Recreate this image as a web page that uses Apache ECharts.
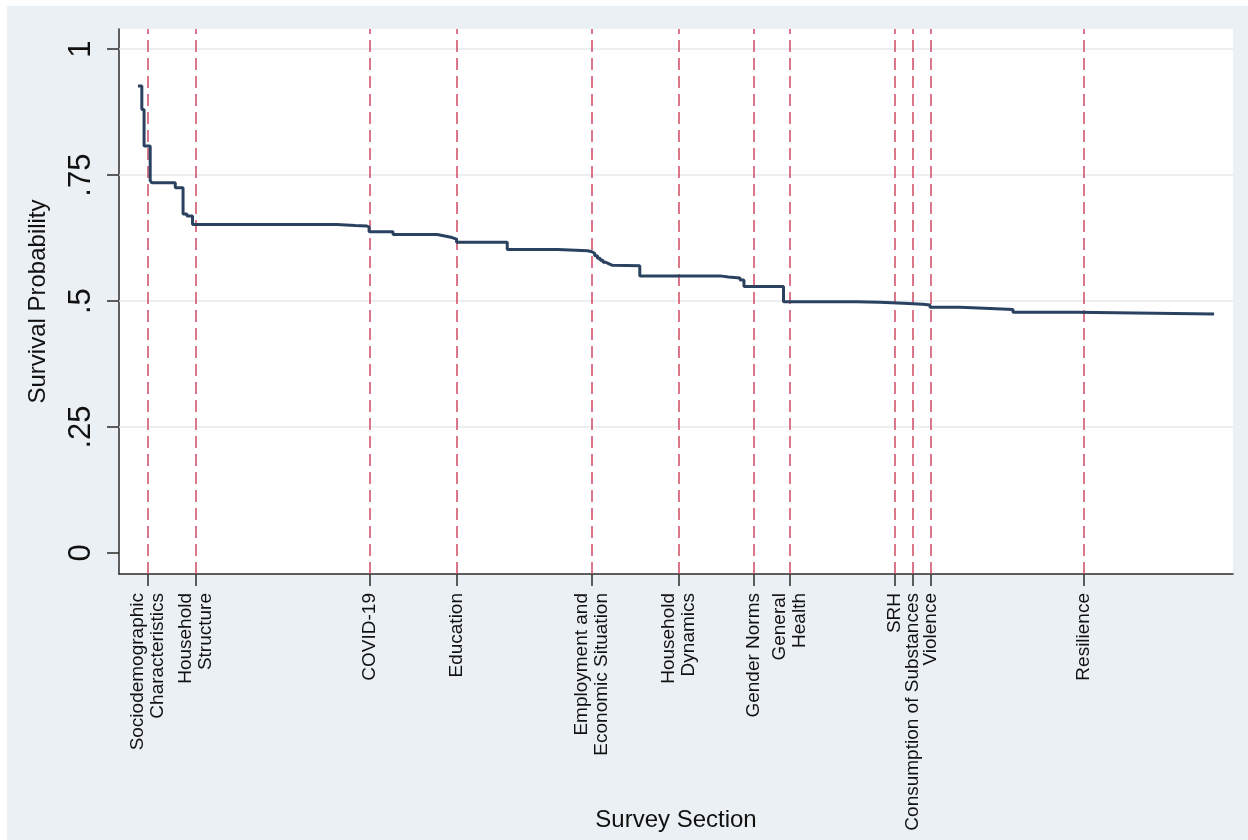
<!DOCTYPE html>
<html>
<head>
<meta charset="utf-8">
<script src="https://cdn.jsdelivr.net/npm/echarts@6/dist/echarts.min.js"></script>
<style>
  html, body { margin: 0; padding: 0; background: #ffffff; }
  #chart { position: absolute; left: 7px; top: 6px; width: 1241px; height: 834px; background: #eaf0f3; }
</style>
</head>
<body>
<div id="chart"></div>
<script>
// survey section positions (question index scale) and their labels
const sectionPos = [5.2, 13.8, 45.1, 60.7, 84.9, 100.5, 114.0, 120.5, 139.3, 142.5, 145.8, 173.2]
const sectionNames = [
  'Sociodemographic\nCharacteristics',
  'Household\nStructure',
  'COVID-19',
  'Education',
  'Employment and\nEconomic Situation',
  'Household\nDynamics',
  'Gender Norms',
  'General\nHealth',
  'SRH',
  'Consumption of Substances',
  'Violence',
  'Resilience'
]

// Kaplan-Meier estimate: x where the step happens, survival from there on
const kmX = [3.4, 4.1, 4.5, 5.6, 5.9, 10.1, 11.5, 12.2, 13.2, 39.1, 42.4, 44.5, 44.9, 49.2, 57.1, 58.5, 59.8, 60.6, 69.7, 78.8, 84.1, 84.9, 85.4, 85.9, 86.4, 86.9, 87.4, 88.0, 88.6, 93.5, 107.9, 109.4, 111.5, 112.2, 119.3, 132.4, 136.6, 140.8, 144.3, 145.6, 151.0, 156.4, 160.5, 171.9, 196.6]
const kmY = [0.927, 0.880, 0.808, 0.739, 0.735, 0.725, 0.673, 0.669, 0.652, 0.650, 0.649, 0.647, 0.6375, 0.632, 0.629, 0.626, 0.623, 0.6165, 0.6025, 0.600, 0.598, 0.595, 0.590, 0.585, 0.581, 0.577, 0.574, 0.571, 0.570, 0.550, 0.548, 0.546, 0.542, 0.529, 0.4986, 0.4975, 0.4955, 0.4935, 0.492, 0.4875, 0.4855, 0.4835, 0.4776, 0.4742, 0.4742]

const yTicks = [0, 0.25, 0.5, 0.75, 1]
const yTickLabels = ['0', '.25', '.5', '.75', '1']
const gridValues = [0.25, 0.5, 0.75, 1]

const font = '"Liberation Sans", Arial, Helvetica, sans-serif'
const axisColor = '#2b2b2b'

const chart = echarts.init(document.getElementById('chart'))

const nearestSection = (v) => {
  let best = 0
  sectionPos.forEach((p, i) => {
    if (Math.abs(p - v) < Math.abs(sectionPos[best] - v)) best = i
  })
  return sectionNames[best]
}

chart.setOption({
  animation: false,
  backgroundColor: '#eaf0f3',
  grid: {
    left: 112,
    top: 23,
    width: 1114,
    height: 545,
    containLabel: false,
    outerBoundsMode: 'none',
    show: true,
    backgroundColor: '#ffffff',
    borderWidth: 0
  },
  xAxis: {
    type: 'value',
    min: 0,
    max: 200,
    name: 'Survey Section',
    nameLocation: 'middle',
    nameGap: 234,
    nameMoveOverlap: false,
    nameTextStyle: { fontFamily: font, fontSize: 24, color: '#111' },
    axisLine: { onZero: false, lineStyle: { color: axisColor, width: 1.5 } },
    axisTick: { length: 12, customValues: sectionPos, lineStyle: { color: axisColor, width: 1.5 } },
    axisLabel: {
      customValues: sectionPos,
      rotate: 90,
      margin: 19,
      fontFamily: font,
      fontSize: 19,
      lineHeight: 20,
      color: '#111',
      formatter: (v) => nearestSection(v)
    },
    splitLine: { show: false }
  },
  yAxis: {
    type: 'value',
    min: -0.0417,
    max: 1.04,
    name: 'Survival Probability',
    nameLocation: 'middle',
    nameRotate: 90,
    nameGap: 69,
    nameMoveOverlap: false,
    nameTextStyle: { fontFamily: font, fontSize: 24, color: '#111' },
    axisLine: { show: true, onZero: false, lineStyle: { color: axisColor, width: 1.5 } },
    axisTick: { show: true, length: 12, customValues: yTicks, lineStyle: { color: axisColor, width: 1.5 } },
    axisLabel: {
      customValues: yTicks,
      rotate: 90,
      margin: 22,
      fontFamily: font,
      fontSize: 31,
      color: '#111',
      formatter: (v) => {
        const i = yTicks.findIndex(t => Math.abs(t - v) < 1e-6)
        return i >= 0 ? yTickLabels[i] : ''
      }
    },
    splitLine: { show: false }
  },
  series: [
    {
      // horizontal grid lines
      type: 'line',
      data: [],
      silent: true,
      z: 1,
      markLine: {
        z: 1,
        silent: true,
        symbol: 'none',
        label: { show: false },
        lineStyle: { color: '#e4eaee', width: 1.5, type: 'solid' },
        data: gridValues.map(v => ({ yAxis: v }))
      }
    },
    {
      // section boundaries
      type: 'line',
      data: [],
      silent: true,
      z: 2,
      markLine: {
        z: 2,
        silent: true,
        symbol: 'none',
        label: { show: false },
        lineStyle: { color: '#cf4a66', width: 1.5, type: [12, 6] },
        data: sectionPos.map(v => ({ xAxis: v }))
      }
    },
    {
      name: 'Survival',
      type: 'line',
      step: 'end',
      z: 10,
      showSymbol: false,
      lineStyle: { color: '#2a4260', width: 3 },
      data: kmX.map((x, i) => [x, kmY[i]])
    }
  ]
})

window.addEventListener('resize', () => chart.resize())
</script>
</body>
</html>
